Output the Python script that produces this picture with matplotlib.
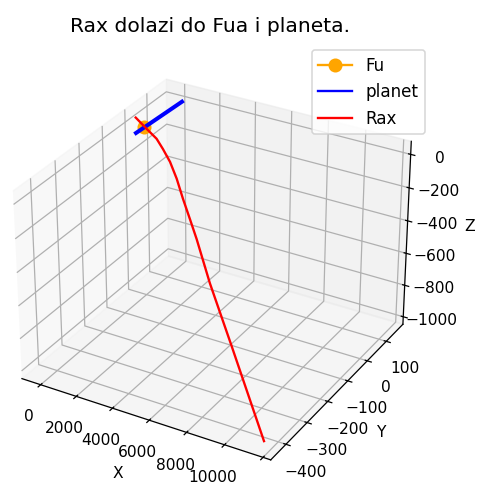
import matplotlib
matplotlib.use("Agg")
import matplotlib.pyplot as plt

# ---- Data ----
fu_x = [0]
fu_y = [0]
fu_z = [0]

planet_x = [0, 178]
planet_y = [-35, 162]
planet_z = [0, 0]

rax_x = [-450, 310, 1356, 2000, 2707, 3372, 3989, 4674, 5324, 6602, 8661, 11650]
rax_y = [0, -12, -51, -75, -101, -126, -149, -175, -199, -247, -323, -435]
rax_z = [45, 11, 20, 2, -27, -81, -158, -229, -302, -470, -690, -1010]

x_limits = (-1063, 12396)
y_limits = (-470, 190)
z_limits = (-1048, 77)

title = 'Rax dolazi do Fua i planeta.'

# ---- Figure ----
fig = plt.figure(figsize=(481 / 112, 483 / 112), dpi=112)
ax = fig.add_axes([-0.024, -0.010, 0.921, 0.917], projection='3d')

ax.plot(fu_x, fu_y, fu_z, marker='o', color='orange', markersize=8, label='Fu')
ax.plot(planet_x, planet_y, planet_z, color='blue', linewidth=2.6, label='planet')
ax.plot(rax_x, rax_y, rax_z, color='red', label='Rax')

ax.set_xlim(*x_limits)
ax.set_ylim(*y_limits)
ax.set_zlim(*z_limits)

ax.set_xlabel('X')
ax.set_ylabel('Y')
ax.set_zlabel('Z')
ax.set_title(title, fontsize=13, pad=8.4)
leg = ax.legend(fontsize=10.8, loc='upper right', borderaxespad=0,
                bbox_to_anchor=(425 / 481, 1 - 50 / 483),
                bbox_transform=fig.transFigure)
leg.get_lines()[1].set_linewidth(1.5)

fig.savefig('out.png', dpi=112)
